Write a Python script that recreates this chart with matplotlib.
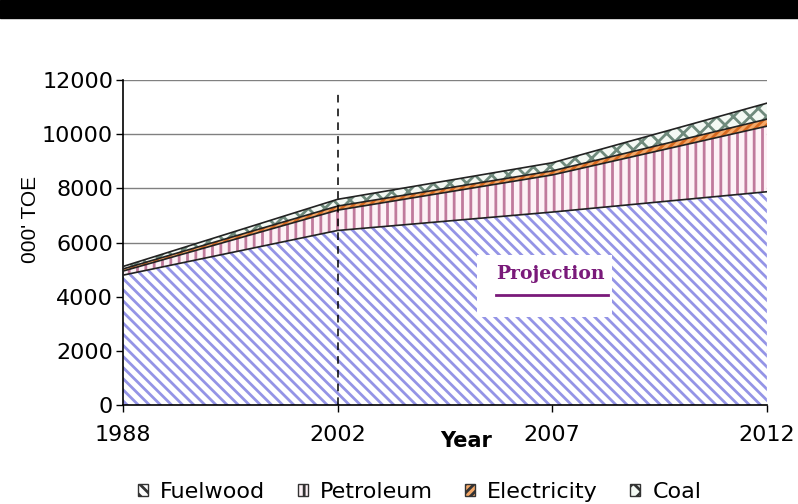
import matplotlib.pyplot as plt
import numpy as np

plt.rcParams['font.family'] = ['DejaVu Sans']
plt.rcParams['hatch.linewidth'] = 2.0

years = ["1988", "2002", "2007", "2012"]
fuelwood = [4800, 6450, 7130, 7880]
petroleum = [150, 750, 1370, 2420]
electricity = [80, 150, 150, 260]
coal = [90, 250, 300, 590]

labels = ["Fuelwood", "Petroleum", "Electricity", "Coal"]
hatches = ["\\\\\\", "||", "////", "xx"]
hatch_cols = ["#9494e6", "#c07a9c", "#d86a20", "#6f8a7c"]
faces = ["white", "#fdf2f6", "#f4a868", "#f4f9f4"]

fig = plt.figure(figsize=(7.98, 5.04), dpi=100)
fig.patches.append(plt.Rectangle((0, 0.965), 1, 0.035, transform=fig.transFigure,
                                 color="black", zorder=-1))
ax = fig.add_axes([0.154, 0.196, 0.807, 0.645])

# category axis: years are evenly spaced
x = np.arange(len(years))
base = np.zeros(len(years))
handles = []
for vals, lab, h, hc, fc in zip([fuelwood, petroleum, electricity, coal],
                                 labels, hatches, hatch_cols, faces):
    top = base + np.array(vals)
    ax.fill_between(x, base, top, facecolor=fc, edgecolor=hc,
                    hatch=h, linewidth=0, zorder=2)
    ax.plot(x, top, color="#222222", lw=1.2, zorder=3)
    handles.append(plt.Rectangle((0, 0), 1, 1, facecolor=fc, edgecolor="#333333",
                                 hatch=h, linewidth=1))
    base = top

ax.axvline(1, ymin=0, ymax=11600 / 12000, color="black", ls=(0, (5, 4)),
           lw=1.1, zorder=4)

ax.set_xlim(0, len(years) - 1)
ax.set_ylim(0, 12000)
ax.set_xticks(x)
ax.set_xticklabels(years)
ax.set_yticks(np.arange(0, 12001, 2000))
ax.yaxis.grid(True, color="#808080", lw=1)
ax.set_axisbelow(True)
for s in ["top", "right"]:
    ax.spines[s].set_visible(False)
ax.spines["left"].set_linewidth(1.2)
ax.spines["bottom"].set_linewidth(1.2)
ax.tick_params(labelsize=16, length=5, width=1)
ax.tick_params(axis="y", pad=2)
ax.tick_params(axis="x", pad=9)
ax.set_ylabel("000' TOE", fontsize=15, family="Liberation Sans")
ax.yaxis.set_label_coords(-0.129, 0.57)
ax.set_xlabel("Year", fontsize=15, fontweight="bold")
ax.xaxis.set_label_coords(1.6 / 3, -0.08)

# projection label box
ax.add_patch(plt.Rectangle((1.65, 3250), 0.63, 2300, facecolor="white",
                           edgecolor="none", zorder=5))
ax.text(1.99, 4850, "Projection", fontsize=13.5, fontweight="bold",
        family="DejaVu Serif", color="#7a1a7a", ha="center", va="center",
        zorder=6)
ax.plot([1.74, 2.26], [4060, 4060], color="#7a1a7a", lw=2, zorder=6)

fig.legend(handles, labels, loc="center", ncol=4, frameon=False,
           fontsize=16, handlelength=0.45, handleheight=0.45, columnspacing=1.45,
           handletextpad=0.55, bbox_to_anchor=(0.526, 0.024))

fig.savefig("out.png", dpi=100)
